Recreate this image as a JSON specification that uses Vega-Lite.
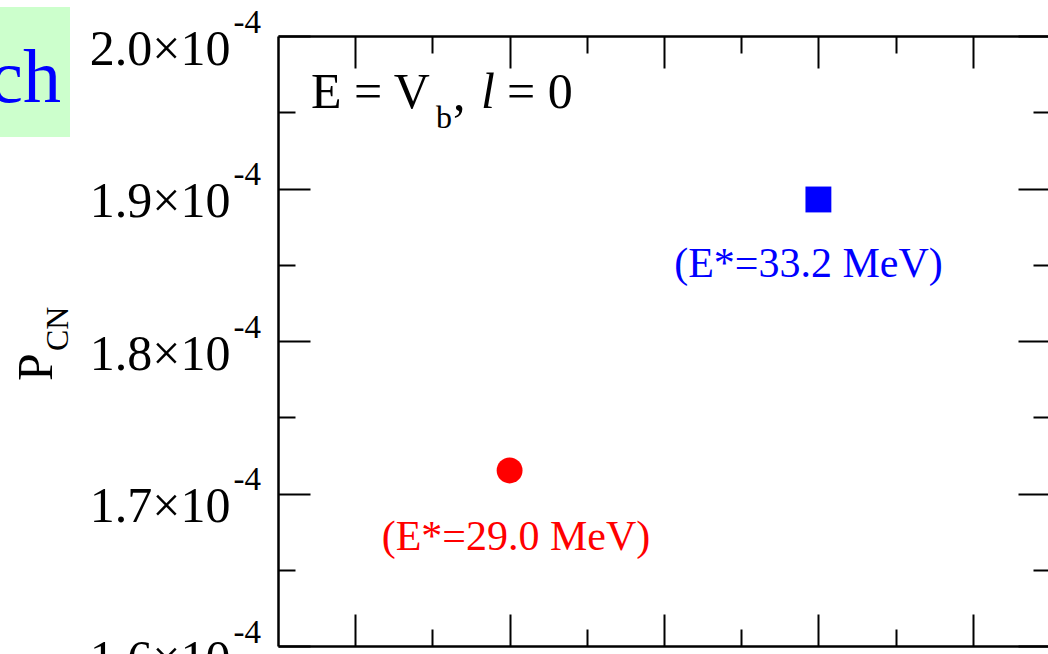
{
  "$schema": "https://vega.github.io/schema/vega-lite/v6.json",
  "width": 770,
  "height": 610,
  "autosize": {"type": "none"},
  "padding": {"left": 278, "top": 36, "right": 0, "bottom": 8},
  "background": "white",
  "config": {
    "view": {"stroke": null},
    "axis": {
      "grid": false,
      "domainColor": "#000000",
      "tickColor": "#000000",
      "domainWidth": 2.5,
      "tickWidth": 2,
      "labelFont": "Liberation Serif",
      "labelColor": "#000000"
    },
    "text": {"font": "Liberation Serif"}
  },
  "datasets": {
    "points": [
      {"x": 2, "p": 0.00017151, "E": "29.0"},
      {"x": 4, "p": 0.00018928, "E": "33.2"}
    ],
    "notes": [
      {"x": 2.0415, "p": 0.000166295, "E": "29.0", "label": "(E*=29.0 MeV)"},
      {"x": 3.9359, "p": 0.000184197, "E": "33.2", "label": "(E*=33.2 MeV)"}
    ],
    "box": [{"x": -1.32, "x2": -0.8472, "p": 0.000201902, "p2": 0.000193377}],
    "boxText": [{"x": -0.9054, "p": 0.000195672, "t": "ch"}],
    "condMain": [
      {"x": 0.7137, "p": 0.000195279, "t": "E = V"},
      {"x": 1.6334, "p": 0.000195148, "t": ","},
      {"x": 1.9832, "p": 0.000195279, "t": "= 0"}
    ],
    "condSub": [{"x": 1.5233, "p": 0.000193967, "t": "b"}],
    "condItalic": [{"x": 1.8148, "p": 0.000195279, "t": "l"}],
    "yTitle": [{"x": -0.9637, "p": 0.000177377, "t": "P"}],
    "yTitleSub": [{"x": -0.8601, "p": 0.000179344, "t": "CN"}]
  },
  "resolve": {"axis": {"x": "independent", "y": "independent"}},
  "layer": [
    {
      "data": {"name": "box"},
      "mark": {"type": "rect", "color": "#ccffcc"},
      "encoding": {
        "x": {"field": "x", "type": "quantitative", "scale": {"domain": [0.5, 5.487], "nice": false, "zero": false},
          "axis": {"orient": "bottom", "values": [1, 2, 3, 4, 5], "tickSize": -32, "labels": false, "domain": true, "title": null}},
        "x2": {"field": "x2"},
        "y": {"field": "p", "type": "quantitative", "scale": {"domain": [0.00016, 0.0002], "nice": false, "zero": false},
          "axis": {"orient": "left", "values": [0.00016, 0.00017, 0.00018, 0.00019, 0.0002], "ticks": false, "domain": false,
            "labelExpr": "format(datum.value*10000,'.1f')+'×10'", "labelFontSize": 50, "labelAlign": "right",
            "labelBaseline": "alphabetic", "labelPadding": 48, "labelOffset": 28, "labelOverlap": false, "title": null}},
        "y2": {"field": "p2"}
      }
    },
    {
      "data": {"name": "boxText"},
      "mark": {"type": "text", "align": "right", "baseline": "alphabetic", "fontSize": 76, "font": "Liberation Serif", "color": "#0000ff"},
      "encoding": {
        "x": {"field": "x", "type": "quantitative", "scale": {"domain": [0.5, 5.487], "nice": false, "zero": false},
          "axis": {"orient": "bottom", "values": [1.5, 2.5, 3.5, 4.5], "tickSize": -17, "labels": false, "domain": false, "title": null}},
        "y": {"field": "p", "type": "quantitative", "scale": {"domain": [0.00016, 0.0002], "nice": false, "zero": false},
          "axis": {"orient": "left", "values": [0.00016, 0.00017, 0.00018, 0.00019, 0.0002], "ticks": false, "domain": false,
            "labelExpr": "'-4'", "labelFontSize": 33, "labelAlign": "left", "labelBaseline": "alphabetic",
            "labelPadding": 45, "labelOffset": -4, "labelOverlap": false, "title": null}},
        "text": {"field": "t"}
      }
    },
    {
      "data": {"name": "points"},
      "mark": {"type": "point", "filled": true, "opacity": 1, "size": 670, "strokeWidth": 0},
      "encoding": {
        "x": {"field": "x", "type": "quantitative", "scale": {"domain": [0.5, 5.487], "nice": false, "zero": false},
          "axis": {"orient": "top", "values": [1, 2, 3, 4, 5], "tickSize": -32, "labels": false, "domain": true, "title": null}},
        "y": {"field": "p", "type": "quantitative", "scale": {"domain": [0.00016, 0.0002], "nice": false, "zero": false},
          "axis": {"orient": "left", "values": [0.00016, 0.00017, 0.00018, 0.00019, 0.0002], "tickSize": -32, "labels": false, "domain": true, "title": null}},
        "shape": {"field": "E", "type": "nominal", "scale": {"domain": ["29.0", "33.2"], "range": ["circle", "square"]}, "legend": null},
        "color": {"field": "E", "type": "nominal", "scale": {"domain": ["29.0", "33.2"], "range": ["#ff0000", "#0000ff"]}, "legend": null}
      }
    },
    {
      "data": {"name": "notes"},
      "mark": {"type": "text", "align": "center", "baseline": "alphabetic", "fontSize": 42, "font": "Liberation Serif"},
      "encoding": {
        "x": {"field": "x", "type": "quantitative", "scale": {"domain": [0.5, 5.487], "nice": false, "zero": false},
          "axis": {"orient": "top", "values": [1.5, 2.5, 3.5, 4.5], "tickSize": -17, "labels": false, "domain": false, "title": null}},
        "y": {"field": "p", "type": "quantitative", "scale": {"domain": [0.00016, 0.0002], "nice": false, "zero": false},
          "axis": {"orient": "left", "values": [0.000165, 0.000175, 0.000185, 0.000195], "tickSize": -17, "labels": false, "domain": false, "title": null}},
        "text": {"field": "label"},
        "color": {"field": "E", "type": "nominal", "scale": {"domain": ["29.0", "33.2"], "range": ["#ff0000", "#0000ff"]}, "legend": null}
      }
    },
    {
      "data": {"name": "condMain"},
      "mark": {"type": "text", "align": "left", "baseline": "alphabetic", "fontSize": 50, "font": "Liberation Serif", "color": "#000000"},
      "encoding": {
        "x": {"field": "x", "type": "quantitative", "scale": {"domain": [0.5, 5.487], "nice": false, "zero": false}, "axis": null},
        "y": {"field": "p", "type": "quantitative", "scale": {"domain": [0.00016, 0.0002], "nice": false, "zero": false},
          "axis": {"orient": "right", "values": [0.00016, 0.00017, 0.00018, 0.00019, 0.0002], "tickSize": -30, "labels": false, "domain": false, "title": null}},
        "text": {"field": "t"}
      }
    },
    {
      "data": {"name": "condSub"},
      "mark": {"type": "text", "align": "left", "baseline": "alphabetic", "fontSize": 32, "font": "Liberation Serif", "color": "#000000"},
      "encoding": {
        "x": {"field": "x", "type": "quantitative", "scale": {"domain": [0.5, 5.487], "nice": false, "zero": false}, "axis": null},
        "y": {"field": "p", "type": "quantitative", "scale": {"domain": [0.00016, 0.0002], "nice": false, "zero": false},
          "axis": {"orient": "right", "values": [0.000165, 0.000175, 0.000185, 0.000195], "tickSize": -15, "labels": false, "domain": false, "title": null}},
        "text": {"field": "t"}
      }
    },
    {
      "data": {"name": "condItalic"},
      "mark": {"type": "text", "align": "left", "baseline": "alphabetic", "fontSize": 50, "fontStyle": "italic", "font": "Liberation Serif", "color": "#000000"},
      "encoding": {
        "x": {"field": "x", "type": "quantitative", "scale": {"domain": [0.5, 5.487], "nice": false, "zero": false}, "axis": null},
        "y": {"field": "p", "type": "quantitative", "scale": {"domain": [0.00016, 0.0002], "nice": false, "zero": false}, "axis": null},
        "text": {"field": "t"}
      }
    },
    {
      "data": {"name": "yTitle"},
      "mark": {"type": "text", "align": "left", "baseline": "alphabetic", "angle": 270, "fontSize": 50, "font": "Liberation Serif", "color": "#000000"},
      "encoding": {
        "x": {"field": "x", "type": "quantitative", "scale": {"domain": [0.5, 5.487], "nice": false, "zero": false}, "axis": null},
        "y": {"field": "p", "type": "quantitative", "scale": {"domain": [0.00016, 0.0002], "nice": false, "zero": false}, "axis": null},
        "text": {"field": "t"}
      }
    },
    {
      "data": {"name": "yTitleSub"},
      "mark": {"type": "text", "align": "left", "baseline": "alphabetic", "angle": 270, "fontSize": 32, "font": "Liberation Serif", "color": "#000000"},
      "encoding": {
        "x": {"field": "x", "type": "quantitative", "scale": {"domain": [0.5, 5.487], "nice": false, "zero": false}, "axis": null},
        "y": {"field": "p", "type": "quantitative", "scale": {"domain": [0.00016, 0.0002], "nice": false, "zero": false}, "axis": null},
        "text": {"field": "t"}
      }
    }
  ]
}
